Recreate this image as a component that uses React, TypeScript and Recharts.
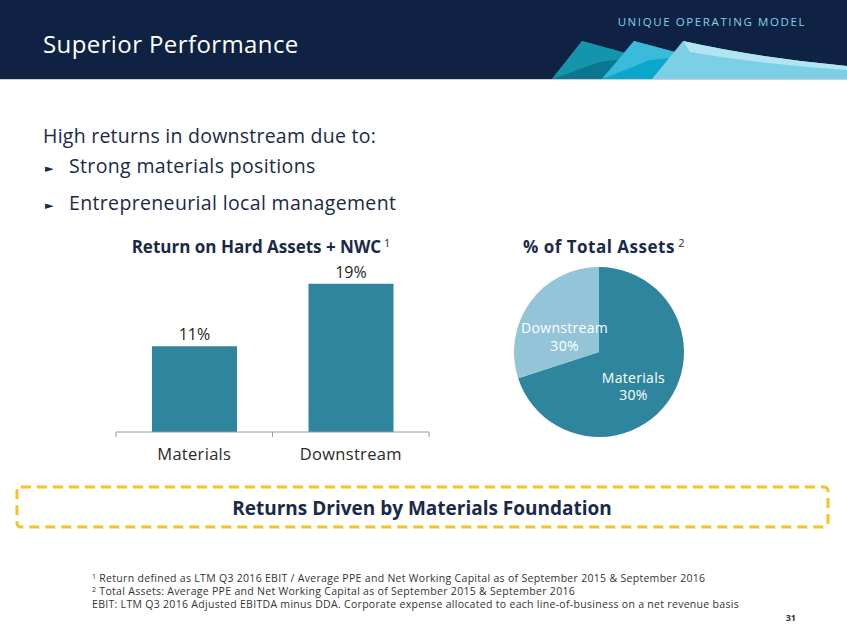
import React from "react";
import { BarChart, Bar, XAxis, YAxis, LabelList, PieChart, Pie, Cell } from "recharts";

const barCategories = ["Materials", "Downstream"];
const returnValues = [11, 19];
const pieNames = ["Materials", "Downstream"];
const pieShares = [70, 30];
const pieLabels = ["30%", "30%"];
const bulletLines = ["Strong materials positions", "Entrepreneurial local management"];
const footnotes = [
  { sup: "1", text: " Return defined as LTM Q3 2016 EBIT / Average PPE and Net Working Capital as of September 2015 & September 2016" },
  { sup: "2", text: " Total Assets: Average PPE and Net Working Capital as of September 2015 & September 2016" },
  { sup: "", text: "EBIT: LTM Q3 2016 Adjusted EBITDA minus DDA. Corporate expense allocated to each line-of-business on a net revenue basis" },
];

const barData = barCategories.map((c, i) => ({ name: c, value: returnValues[i] }));
const pieData = pieNames.map((n, i) => ({ name: n, value: pieShares[i], pct: pieLabels[i] }));

const NAVY = "#0f2244";
const TEXT_NAVY = "#1b2949";
const TEAL = "#2f859e";
const LIGHT = "#93c4d7";
const FONT = "'Open Sans', 'DejaVu Sans', sans-serif";

const BAR_W = 360;
const BAR_H = 240;
const BAR_MARGIN = { top: 46, right: 31, left: 16, bottom: 8 };
const PLOT_W = BAR_W - BAR_MARGIN.left - BAR_MARGIN.right;

const BoundaryTick = (props: any) => {
  const { x, y, payload } = props;
  const half = PLOT_W / barCategories.length / 2;
  return (
    <g>
      <line x1={x - half} y1={y} x2={x - half} y2={y + 5} stroke="#9a9a9a" strokeWidth={1} />
      <line x1={x + half} y1={y} x2={x + half} y2={y + 5} stroke="#9a9a9a" strokeWidth={1} />
      <text x={x} y={y + 28} textAnchor="middle" fill="#2a2a2a" fontSize={16.5} letterSpacing={0.3} fontFamily={FONT}>
        {payload.value}
      </text>
    </g>
  );
};

const renderPieLabel = (props: any) => {
  const { cx, cy, midAngle, outerRadius, name } = props;
  const pct = props.payload?.pct ?? props.pct;
  const RAD = Math.PI / 180;
  const r = outerRadius * 0.5;
  const x = cx + r * Math.cos(-midAngle * RAD);
  const y = cy + r * Math.sin(-midAngle * RAD) + 9;
  return (
    <g>
      <text x={x} y={y - 3} fill="#ffffff" textAnchor="middle" fontSize={14} letterSpacing={0.3} fontFamily={FONT}>{name}</text>
      <text x={x} y={y + 14.5} fill="#ffffff" textAnchor="middle" fontSize={14} letterSpacing={0.3} fontFamily={FONT}>{pct}</text>
    </g>
  );
};

export default function App() {
  return (
    <div style={{ position: "absolute", left: 0, top: 0, width: 847, height: 635, background: "#ffffff", overflow: "hidden", fontFamily: FONT }}>
      <svg width={847} height={635} style={{ position: "absolute", left: 0, top: 0 }}>
        <rect x={0} y={0} width={847} height={79} fill={NAVY} />
        {/* wave shapes */}
        <polygon points="552,79 582,41 640,57 720,79" fill="#0a7690" />
        <polygon points="552,79 582,41 640,57 600,62" fill="#1595ad" />
        <polygon points="602,79 634,41 690,56 790,79" fill="#0aa6cc" />
        <polygon points="602,79 634,41 690,56 650,60" fill="#3bbbdb" />
        <path d="M652,79 L683,41 Q760,58 847,66 L847,79 Z" fill="#7dcfe6" />
        <path d="M683,41 Q760,58 847,66 L847,70 Q760,64 690,52 Z" fill="#b3e4f1" />
        <rect x={0} y={79} width={847} height={1} fill="#c8d2dc" />
        <text x={43} y={53} fill="#ffffff" fontSize={24} letterSpacing={0.4} fontFamily={FONT}>Superior Performance</text>
        <text x={806} y={26} fill="#7fd3ee" fontSize={11.5} textAnchor="end" letterSpacing={1.6} fontFamily={FONT}>UNIQUE OPERATING MODEL</text>

        <text x={43} y={143} fill={TEXT_NAVY} fontSize={19.5} letterSpacing={0.25} fontFamily={FONT}>High returns in downstream due to:</text>
        {bulletLines.map((b, i) => (
          <g key={b}>
            <text x={45} y={172 + i * 37} fill={TEXT_NAVY} fontSize={11} fontFamily={FONT}>►</text>
            <text x={69} y={173 + i * 37} fill={TEXT_NAVY} fontSize={19.5} letterSpacing={0.35} fontFamily={FONT}>{b}</text>
          </g>
        ))}

        <text x={261} y={253} textAnchor="middle" fill={TEXT_NAVY} fontSize={17} fontWeight="bold" fontFamily={FONT}>
          Return on Hard Assets + NWC<tspan fontSize={11} fontWeight="normal" dy={-6}> 1</tspan>
        </text>
        <text x={604} y={253} textAnchor="middle" fill={TEXT_NAVY} fontSize={17} fontWeight="bold" letterSpacing={0.5} fontFamily={FONT}>
          % of Total Assets<tspan fontSize={11} fontWeight="normal" dy={-6}> 2</tspan>
        </text>

        <rect x={17} y={487} width={811} height={40} rx={4} fill="none" stroke="#f8c322" strokeWidth={3} strokeDasharray="10 6" />
        <text x={422} y={515} textAnchor="middle" fill={TEXT_NAVY} fontSize={19} fontWeight="bold" fontFamily={FONT}>Returns Driven by Materials Foundation</text>

        {footnotes.map((f, i) => (
          <text key={i} x={92} y={582 + i * 13} fill="#333333" fontSize={10.5} letterSpacing={0.3} fontFamily={FONT}>
            {f.sup ? <tspan fontSize={7} dy={-3}>{f.sup}</tspan> : null}
            {f.sup ? <tspan dy={3}>{f.text}</tspan> : f.text}
          </text>
        ))}
        <text x={796} y={621} textAnchor="end" fill="#333333" fontSize={9} fontWeight="bold" fontFamily={FONT}>31</text>
      </svg>

      <div style={{ position: "absolute", left: 100, top: 230 }}>
        <BarChart width={BAR_W} height={BAR_H} data={barData} margin={BAR_MARGIN} barCategoryGap="23%">
          <XAxis dataKey="name" height={30} axisLine={{ stroke: "#9a9a9a" }} tickLine={false} tickSize={0} tickMargin={0} tick={<BoundaryTick />} interval={0} />
          <YAxis hide domain={[0, 20]} />
          <Bar dataKey="value" fill={TEAL} isAnimationActive={false}>
            <LabelList dataKey="value" position="top" offset={6} formatter={(v: any) => `${v}%`} fill="#1e1e1e" fontSize={16} fontFamily={FONT} />
          </Bar>
        </BarChart>
      </div>

      <div style={{ position: "absolute", left: 499, top: 252 }}>
        <PieChart width={200} height={200} margin={{ top: 0, right: 0, bottom: 0, left: 0 }}>
          <Pie data={pieData} dataKey="value" nameKey="name" cx={100} cy={100} outerRadius={85} startAngle={90} endAngle={-270} stroke="none" labelLine={false} label={renderPieLabel} isAnimationActive={false}>
            {pieData.map((d, i) => (
              <Cell key={d.name} fill={i === 0 ? TEAL : LIGHT} />
            ))}
          </Pie>
        </PieChart>
      </div>
    </div>
  );
}
